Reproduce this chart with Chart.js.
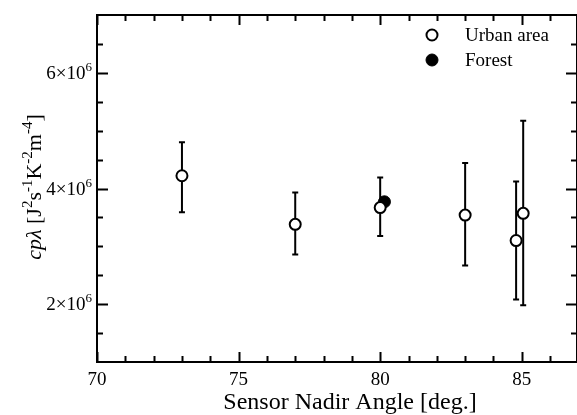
<!DOCTYPE html>
<html>
<head>
<meta charset="utf-8">
<script src="https://cdn.jsdelivr.net/npm/chart.js@4"></script>
<style>
  html, body { margin: 0; padding: 0; background: #fff; }
  #wrap { width: 577px; height: 415px; }
</style>
</head>
<body>
<div id="wrap"><canvas id="myChart" width="577" height="415"></canvas></div>
<script>
const urbanAngle = [73.0, 77.0, 80.0, 83.0, 84.8, 85.05];
const urbanValue = [4.22e6, 3.38e6, 3.67e6, 3.54e6, 3.10e6, 3.57e6];
const urbanHigh = [4.80e6, 3.93e6, 4.19e6, 4.44e6, 4.12e6, 5.17e6];
const urbanLow = [3.59e6, 2.86e6, 3.18e6, 2.67e6, 2.08e6, 1.98e6];
const forestAngle = [80.15];
const forestValue = [3.77e6];
const xLabels = [70, 75, 80, 85];
const yLabels = [2e6, 4e6, 6e6];

const serif = '"Liberation Serif", "DejaVu Serif", serif';

const urbanPoints = urbanAngle.map((x, i) => ({x: x, y: urbanValue[i], hi: urbanHigh[i], lo: urbanLow[i]}));
const forestPoints = forestAngle.map((x, i) => ({x: x, y: forestValue[i]}));

// error bars under the markers
const errorBars = {
  id: 'errorBars',
  beforeDatasetsDraw(chart) {
    const ctx = chart.ctx;
    const xs = chart.scales.x, ys = chart.scales.y;
    ctx.save();
    ctx.strokeStyle = '#000';
    ctx.lineWidth = 2;
    urbanPoints.forEach(p => {
      const px = xs.getPixelForValue(p.x);
      const top = ys.getPixelForValue(p.hi);
      const bot = ys.getPixelForValue(p.lo);
      ctx.beginPath();
      ctx.moveTo(px, top); ctx.lineTo(px, bot);
      ctx.moveTo(px - 3, top); ctx.lineTo(px + 3, top);
      ctx.moveTo(px - 3, bot); ctx.lineTo(px + 3, bot);
      ctx.stroke();
    });
    ctx.restore();
  }
};

// draws text pieces [text, font, raise] one after another
function drawRun(ctx, parts, x, y) {
  parts.forEach(p => {
    ctx.font = p[1] + ' ' + serif;
    ctx.fillText(p[0], x, y + p[2]);
    x += ctx.measureText(p[0]).width;
  });
}
function runWidth(ctx, parts) {
  let w = 0;
  parts.forEach(p => { ctx.font = p[1] + ' ' + serif; w += ctx.measureText(p[0]).width; });
  return w;
}

// box with inward ticks, tick labels, axis titles, legend
const frame = {
  id: 'frame',
  afterDraw(chart) {
    const ctx = chart.ctx;
    const a = chart.chartArea;
    const xs = chart.scales.x, ys = chart.scales.y;
    ctx.save();
    ctx.strokeStyle = '#000';
    ctx.lineWidth = 2;
    ctx.strokeRect(a.left, a.top, a.right - a.left, a.bottom - a.top);
    ctx.beginPath();
    xs.ticks.forEach(t => {
      const px = Math.round(xs.getPixelForValue(t.value)) + 0.5;
      const len = t.value % 5 === 0 ? 10 : 6;
      ctx.moveTo(px, a.bottom); ctx.lineTo(px, a.bottom - len);
      ctx.moveTo(px, a.top); ctx.lineTo(px, a.top + len);
    });
    ys.ticks.forEach(t => {
      const py = Math.round(ys.getPixelForValue(t.value)) + 0.5;
      const len = t.value % 2e6 === 0 ? 11 : 6;
      ctx.moveTo(a.left, py); ctx.lineTo(a.left + len, py);
      ctx.moveTo(a.right, py); ctx.lineTo(a.right - len, py);
    });
    ctx.stroke();

    ctx.fillStyle = '#000';
    ctx.textBaseline = 'alphabetic';

    // x tick labels
    ctx.font = '19px ' + serif;
    ctx.textAlign = 'center';
    xLabels.forEach(v => {
      ctx.fillText(String(v), xs.getPixelForValue(v), 385);
    });

    // y tick labels  n×10^6
    ctx.textAlign = 'left';
    yLabels.forEach(v => {
      const py = ys.getPixelForValue(v);
      const parts = [[(v / 1e6) + '×10', '19px', 0], ['6', '13px', -8]];
      drawRun(ctx, parts, 92 - runWidth(ctx, parts), py + 6);
    });

    // x title
    ctx.font = '24px ' + serif;
    ctx.textAlign = 'center';
    ctx.fillText('Sensor Nadir Angle [deg.]', 350, 409);
    ctx.textAlign = 'left';

    // y title with italic symbol and superscripts
    const parts = [
      ['cpλ ', 'italic 22px', 0],
      ['[J', '22px', 0], ['2', '15px', -9],
      ['s', '22px', 0], ['-1', '15px', -9],
      ['K', '22px', 0], ['-2', '15px', -9],
      ['m', '22px', 0], ['-4', '15px', -9],
      [']', '22px', 0]
    ];
    const w = runWidth(ctx, parts);
    ctx.translate(41, 187);
    ctx.rotate(-Math.PI / 2);
    drawRun(ctx, parts, -w / 2, 0);
    ctx.setTransform(1, 0, 0, 1, 0, 0);

    // legend
    const items = [
      [chart.data.datasets[0], 35],
      [chart.data.datasets[1], 60]
    ];
    items.forEach(([ds, ly]) => {
      ctx.beginPath();
      ctx.arc(432, ly, ds.pointRadius, 0, Math.PI * 2);
      ctx.fillStyle = ds.backgroundColor;
      ctx.fill();
      ctx.lineWidth = ds.borderWidth;
      ctx.strokeStyle = ds.borderColor;
      ctx.stroke();
      ctx.fillStyle = '#000';
      ctx.font = '19px ' + serif;
      ctx.textAlign = 'left';
      ctx.textBaseline = 'middle';
      ctx.fillText(ds.label, 465, ly + 1);
    });
    ctx.restore();
  }
};

new Chart(document.getElementById('myChart'), {
  type: 'scatter',
  data: {
    datasets: [{
      label: 'Urban area',
      data: urbanPoints,
      pointRadius: 5.5,
      borderWidth: 2,
      borderColor: '#000',
      backgroundColor: '#fff'
    }, {
      label: 'Forest',
      data: forestPoints,
      pointRadius: 6,
      borderWidth: 1,
      borderColor: '#000',
      backgroundColor: '#000'
    }]
  },
  options: {
    responsive: false,
    animation: false,
    layout: { autoPadding: false, padding: { top: 15, right: 0, left: 0, bottom: 0 } },
    plugins: { legend: { display: false }, tooltip: { enabled: false } },
    scales: {
      x: {
        type: 'linear',
        min: 70,
        max: 86.95,
        afterFit(scale) {
          scale.height = 53;
          scale.paddingLeft = 0;
          scale.paddingRight = 0;
        },
        afterBuildTicks(scale) {
          scale.ticks = [];
          for (let v = 70; v <= 86; v++) scale.ticks.push({value: v});
        },
        border: { display: false },
        grid: { display: false },
        ticks: { display: false }
      },
      y: {
        type: 'linear',
        min: 1e6,
        max: 7e6,
        afterFit(scale) {
          scale.width = 97;
          scale.paddingTop = 0;
          scale.paddingBottom = 0;
        },
        afterBuildTicks(scale) {
          scale.ticks = [];
          for (let v = 1.5e6; v <= 6.5e6; v += 5e5) scale.ticks.push({value: v});
        },
        border: { display: false },
        grid: { display: false },
        ticks: { display: false }
      }
    }
  },
  plugins: [errorBars, frame]
});
</script>
</body>
</html>
